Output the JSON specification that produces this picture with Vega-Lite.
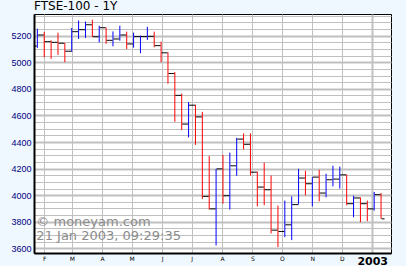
{
  "$schema": "https://vega.github.io/schema/vega-lite/v6.json",
  "width": 357,
  "height": 239,
  "autosize": "none",
  "padding": {"left": 34, "top": 14, "right": 15, "bottom": 13},
  "background": "#F0F8FF",
  "config": {"view": {"fill": "white", "stroke": "black", "strokeWidth": 1}},
  "title": {"text": "FTSE-100 - 1Y", "anchor": "start", "frame": "group", "font": "DejaVu Sans", "fontSize": 12, "fontWeight": "normal", "color": "black", "offset": -1},
  "data": {"values": [
    {"date": "2002-01-25", "open": 5122, "high": 5252, "low": 5108, "close": 5205},
    {"date": "2002-02-01", "open": 5205, "high": 5228, "low": 5038, "close": 5155},
    {"date": "2002-02-08", "open": 5155, "high": 5165, "low": 5026, "close": 5150},
    {"date": "2002-02-15", "open": 5150, "high": 5222, "low": 5055, "close": 5143},
    {"date": "2002-02-22", "open": 5143, "high": 5145, "low": 5000, "close": 5083},
    {"date": "2002-03-01", "open": 5083, "high": 5258, "low": 5078, "close": 5230},
    {"date": "2002-03-08", "open": 5230, "high": 5314, "low": 5175, "close": 5245},
    {"date": "2002-03-15", "open": 5245, "high": 5307, "low": 5183, "close": 5282},
    {"date": "2002-03-22", "open": 5282, "high": 5320, "low": 5190, "close": 5192},
    {"date": "2002-03-29", "open": 5192, "high": 5275, "low": 5150, "close": 5260},
    {"date": "2002-04-05", "open": 5260, "high": 5262, "low": 5138, "close": 5165},
    {"date": "2002-04-12", "open": 5165, "high": 5232, "low": 5120, "close": 5175},
    {"date": "2002-04-19", "open": 5175, "high": 5275, "low": 5162, "close": 5205},
    {"date": "2002-04-26", "open": 5205, "high": 5230, "low": 5100, "close": 5138},
    {"date": "2002-05-03", "open": 5138, "high": 5223, "low": 5110, "close": 5193},
    {"date": "2002-05-10", "open": 5193, "high": 5200, "low": 5068, "close": 5193},
    {"date": "2002-05-17", "open": 5193, "high": 5267, "low": 5168, "close": 5195},
    {"date": "2002-05-24", "open": 5195, "high": 5230, "low": 5113, "close": 5125},
    {"date": "2002-05-31", "open": 5125, "high": 5155, "low": 5000, "close": 5071},
    {"date": "2002-06-07", "open": 5071, "high": 5075, "low": 4839, "close": 4915},
    {"date": "2002-06-14", "open": 4915, "high": 4926, "low": 4552, "close": 4751},
    {"date": "2002-06-21", "open": 4751, "high": 4764, "low": 4490, "close": 4535},
    {"date": "2002-06-28", "open": 4535, "high": 4701, "low": 4435, "close": 4677},
    {"date": "2002-07-05", "open": 4677, "high": 4680, "low": 4378, "close": 4589},
    {"date": "2002-07-12", "open": 4589, "high": 4627, "low": 3972, "close": 3991},
    {"date": "2002-07-19", "open": 3991, "high": 4295, "low": 3892, "close": 3897},
    {"date": "2002-07-26", "open": 3897, "high": 4198, "low": 3622, "close": 4198},
    {"date": "2002-08-02", "open": 4198, "high": 4303, "low": 3936, "close": 3996},
    {"date": "2002-08-09", "open": 3996, "high": 4320, "low": 3892, "close": 4221},
    {"date": "2002-08-16", "open": 4221, "high": 4432, "low": 4146, "close": 4422},
    {"date": "2002-08-23", "open": 4422, "high": 4465, "low": 4345, "close": 4383},
    {"date": "2002-08-30", "open": 4383, "high": 4465, "low": 4148, "close": 4173},
    {"date": "2002-09-06", "open": 4173, "high": 4178, "low": 3916, "close": 4061},
    {"date": "2002-09-13", "open": 4061, "high": 4245, "low": 3924, "close": 4041},
    {"date": "2002-09-20", "open": 4041, "high": 4148, "low": 3712, "close": 3737},
    {"date": "2002-09-27", "open": 3737, "high": 3922, "low": 3610, "close": 3727},
    {"date": "2002-10-04", "open": 3727, "high": 3959, "low": 3684, "close": 3777},
    {"date": "2002-10-11", "open": 3777, "high": 3991, "low": 3662, "close": 3929},
    {"date": "2002-10-18", "open": 3929, "high": 4198, "low": 3929, "close": 4129},
    {"date": "2002-10-25", "open": 4129, "high": 4183, "low": 3999, "close": 4086},
    {"date": "2002-11-01", "open": 4086, "high": 4136, "low": 3916, "close": 4136},
    {"date": "2002-11-08", "open": 4136, "high": 4191, "low": 3954, "close": 4016},
    {"date": "2002-11-15", "open": 4016, "high": 4161, "low": 3984, "close": 4116},
    {"date": "2002-11-22", "open": 4116, "high": 4221, "low": 4066, "close": 4121},
    {"date": "2002-11-29", "open": 4121, "high": 4215, "low": 4049, "close": 4153},
    {"date": "2002-12-06", "open": 4153, "high": 4155, "low": 3924, "close": 3936},
    {"date": "2002-12-13", "open": 3936, "high": 3996, "low": 3834, "close": 3979},
    {"date": "2002-12-20", "open": 3979, "high": 3984, "low": 3797, "close": 3936},
    {"date": "2002-12-27", "open": 3936, "high": 3959, "low": 3804, "close": 3897},
    {"date": "2003-01-03", "open": 3897, "high": 4024, "low": 3884, "close": 4004},
    {"date": "2003-01-10", "open": 4004, "high": 4016, "low": 3822, "close": 3822}
  ]},
  "layer": [
    {
      "mark": {"type": "rule", "strokeWidth": 1},
      "encoding": {
        "x": {
          "field": "date", "type": "temporal",
          "scale": {"type": "utc", "nice": false, "domain": [{"year": 2002, "month": 1, "date": 21, "hours": 14, "utc": true}, {"year": 2003, "month": 1, "date": 20, "hours": 3, "utc": true}]},
          "axis": {
            "title": null,
            "tickCount": 100,
            "values": [
              {"year": 2002, "month": 2, "date": 1, "utc": true},
              {"year": 2002, "month": 3, "date": 1, "utc": true},
              {"year": 2002, "month": 4, "date": 1, "utc": true},
              {"year": 2002, "month": 5, "date": 1, "utc": true},
              {"year": 2002, "month": 6, "date": 1, "utc": true},
              {"year": 2002, "month": 7, "date": 1, "utc": true},
              {"year": 2002, "month": 8, "date": 1, "utc": true},
              {"year": 2002, "month": 9, "date": 1, "utc": true},
              {"year": 2002, "month": 10, "date": 1, "utc": true},
              {"year": 2002, "month": 11, "date": 1, "utc": true},
              {"year": 2002, "month": 12, "date": 1, "utc": true},
              {"year": 2003, "month": 1, "date": 1, "utc": true}
            ],
            "grid": true,
            "gridColor": "#c0c0c0",
            "gridWidth": {"condition": {"test": "utcmonth(datum.value) == 0", "value": 2}, "value": 1},
            "domain": true, "domainColor": "black", "domainWidth": 2,
            "ticks": false,
            "labelExpr": "utcmonth(datum.value) == 0 ? utcFormat(datum.value, '%Y') : slice(utcFormat(datum.value, '%b'), 0, 1)",
            "labelFont": "DejaVu Sans",
            "labelFontSize": {"condition": {"test": "utcmonth(datum.value) == 0", "value": 11}, "value": 6},
            "labelFontWeight": {"condition": {"test": "utcmonth(datum.value) == 0", "value": "bold"}, "value": "normal"},
            "labelColor": "black",
            "labelPadding": 2,
            "labelFlush": false,
            "labelOverlap": false
          }
        },
        "y": {
          "field": "low", "type": "quantitative",
          "scale": {"domain": [3565, 5363], "nice": false, "zero": false},
          "axis": {
            "title": null,
            "tickCount": 100,
            "values": [3600, 3650, 3700, 3750, 3800, 3850, 3900, 3950, 4000, 4050, 4100, 4150, 4200, 4250, 4300, 4350, 4400, 4450, 4500, 4550, 4600, 4650, 4700, 4750, 4800, 4850, 4900, 4950, 5000, 5050, 5100, 5150, 5200, 5250, 5300, 5350],
            "grid": true,
            "gridColor": "#c0c0c0",
            "gridWidth": {"condition": {"test": "datum.value % 200 == 0", "value": 2}, "value": 1},
            "domain": true, "domainColor": "black", "domainWidth": 2,
            "ticks": false,
            "labelExpr": "datum.value % 200 == 0 ? format(datum.value, 'd') : ''",
            "labelFont": "Liberation Sans",
            "labelFontSize": 9,
            "labelColor": "#000080",
            "labelPadding": 3,
            "labelOverlap": false,
            "labelFlush": false
          }
        },
        "y2": {"field": "high"},
        "color": {"condition": {"test": "datum.close >= datum.open", "value": "#0000ff"}, "value": "#ff0000"}
      }
    },
    {
      "data": {"values": [{}]},
      "mark": {"type": "text", "text": "© moneyam.com\n21 Jan 2003, 09:29:35", "lineBreak": "\n", "lineHeight": 14, "align": "left", "baseline": "alphabetic", "font": "DejaVu Sans", "fontSize": 13, "color": "#8c8c8c"},
      "encoding": {
        "x": {"datum": {"year": 2002, "month": 1, "date": 24, "utc": true}, "type": "temporal"},
        "y": {"datum": 3767, "type": "quantitative"}
      }
    },
    {
      "mark": {"type": "tick", "orient": "horizontal", "size": 3, "thickness": 1, "xOffset": -2, "color": "black", "opacity": 1},
      "encoding": {
        "x": {"field": "date", "type": "temporal"},
        "y": {"field": "open", "type": "quantitative"}
      }
    },
    {
      "mark": {"type": "tick", "orient": "horizontal", "size": 3, "thickness": 1, "xOffset": 2, "color": "black", "opacity": 1},
      "encoding": {
        "x": {"field": "date", "type": "temporal"},
        "y": {"field": "close", "type": "quantitative"}
      }
    }
  ]
}
